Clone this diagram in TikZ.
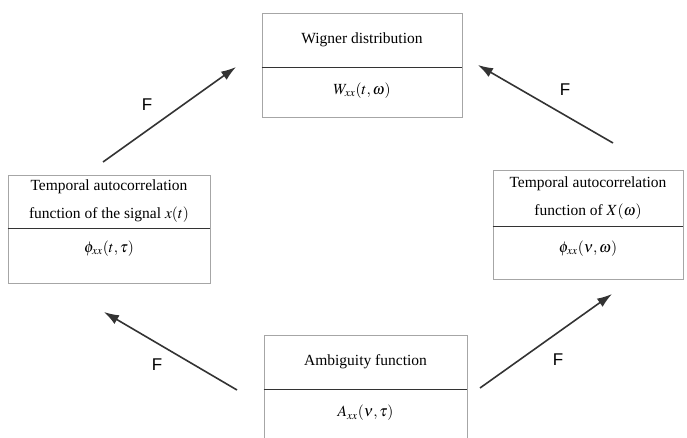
\documentclass[tikz,border=0pt]{standalone}
\usepackage{mathptmx}
\usepackage{fontspec}
\setmainfont{Liberation Serif}
\newfontfamily\fsans{Liberation Sans}
\usetikzlibrary{arrows.meta}
\newcommand{\remonte}[2]{\raisebox{#1}[\height][\depth]{#2}}

\begin{document}
\begin{tikzpicture}[
    x=1pt, y=-1pt,  % On travaille en pixels, y vers le bas
    % Cadres des boites (gris clair) et trait de separation
    part/.style={draw=black!35, line width=0.8pt, inner sep=0pt, align=center,
                 font=\fontsize{15.5}{28}\selectfont},
    formule/.style={part, font=\fontsize{15.5}{18}\selectfont},
    divider/.style={draw=black!80, line width=1.3pt},
    fleche/.style={draw=black!80, line width=1.6pt, -{Latex[length=15pt,width=10pt]}},
    lab/.style={font=\fsans\fontsize{17}{20}\selectfont}
]
\useasboundingbox (0,0) rectangle (687,438);
\clip (0,0) rectangle (687,438);
% Boite du haut
\node[part, minimum width=200pt, minimum height=54pt] (wig) at (362,40) {Wigner distribution};
\node[formule, minimum width=200pt, minimum height=50pt, anchor=north] (wigf) at (wig.south)
    {\remonte{2pt}{$W_{xx}(t,\omega)$}};
% Boite de gauche
\node[part, minimum width=202pt, minimum height=53pt] (tac) at (109,201.5)
    {Temporal autocorrelation\\function of the signal $x(t)$};
\node[formule, minimum width=202pt, minimum height=55pt, anchor=north] (tacf) at (tac.south)
    {\remonte{8pt}{$\phi_{xx}(t,\tau)$}};
% Boite de droite
\node[part, minimum width=190pt, minimum height=56pt] (fac) at (588,198)
    {Temporal autocorrelation\\function of $X(\omega)$};
\node[formule, minimum width=190pt, minimum height=53pt, anchor=north] (facf) at (fac.south)
    {\remonte{5pt}{$\phi_{xx}(\nu,\omega)$}};
% Boite du bas
\node[part, minimum width=203pt, minimum height=54pt] (amb) at (365.5,362) {Ambiguity function};
\node[formule, minimum width=203pt, minimum height=60pt, anchor=north] (ambf) at (amb.south)
    {\remonte{7pt}{$A_{xx}(\nu,\tau)$}};
% Traits de separation
\foreach \b in {wig,tac,fac,amb}
    \draw[divider] (\b.south west) -- (\b.south east);
% Extremites des fleches
\coordinate (a1) at (103,162); \coordinate (b1) at (236,67);
\coordinate (a2) at (613,143); \coordinate (b2) at (478,65);
\coordinate (a3) at (237,390); \coordinate (b3) at (104,312);
\coordinate (a4) at (480,388); \coordinate (b4) at (612,294);
\foreach \i in {1,...,4}
    \draw[fleche] (a\i) -- (b\i);
% Les labels F
\node[lab] (f1) at (147,105) {F};
\node[lab] (f2) at (565,90) {F};
\node[lab] (f3) at (157,365) {F};
\node[lab] (f4) at (558,360) {F};
\end{tikzpicture}
\end{document}
